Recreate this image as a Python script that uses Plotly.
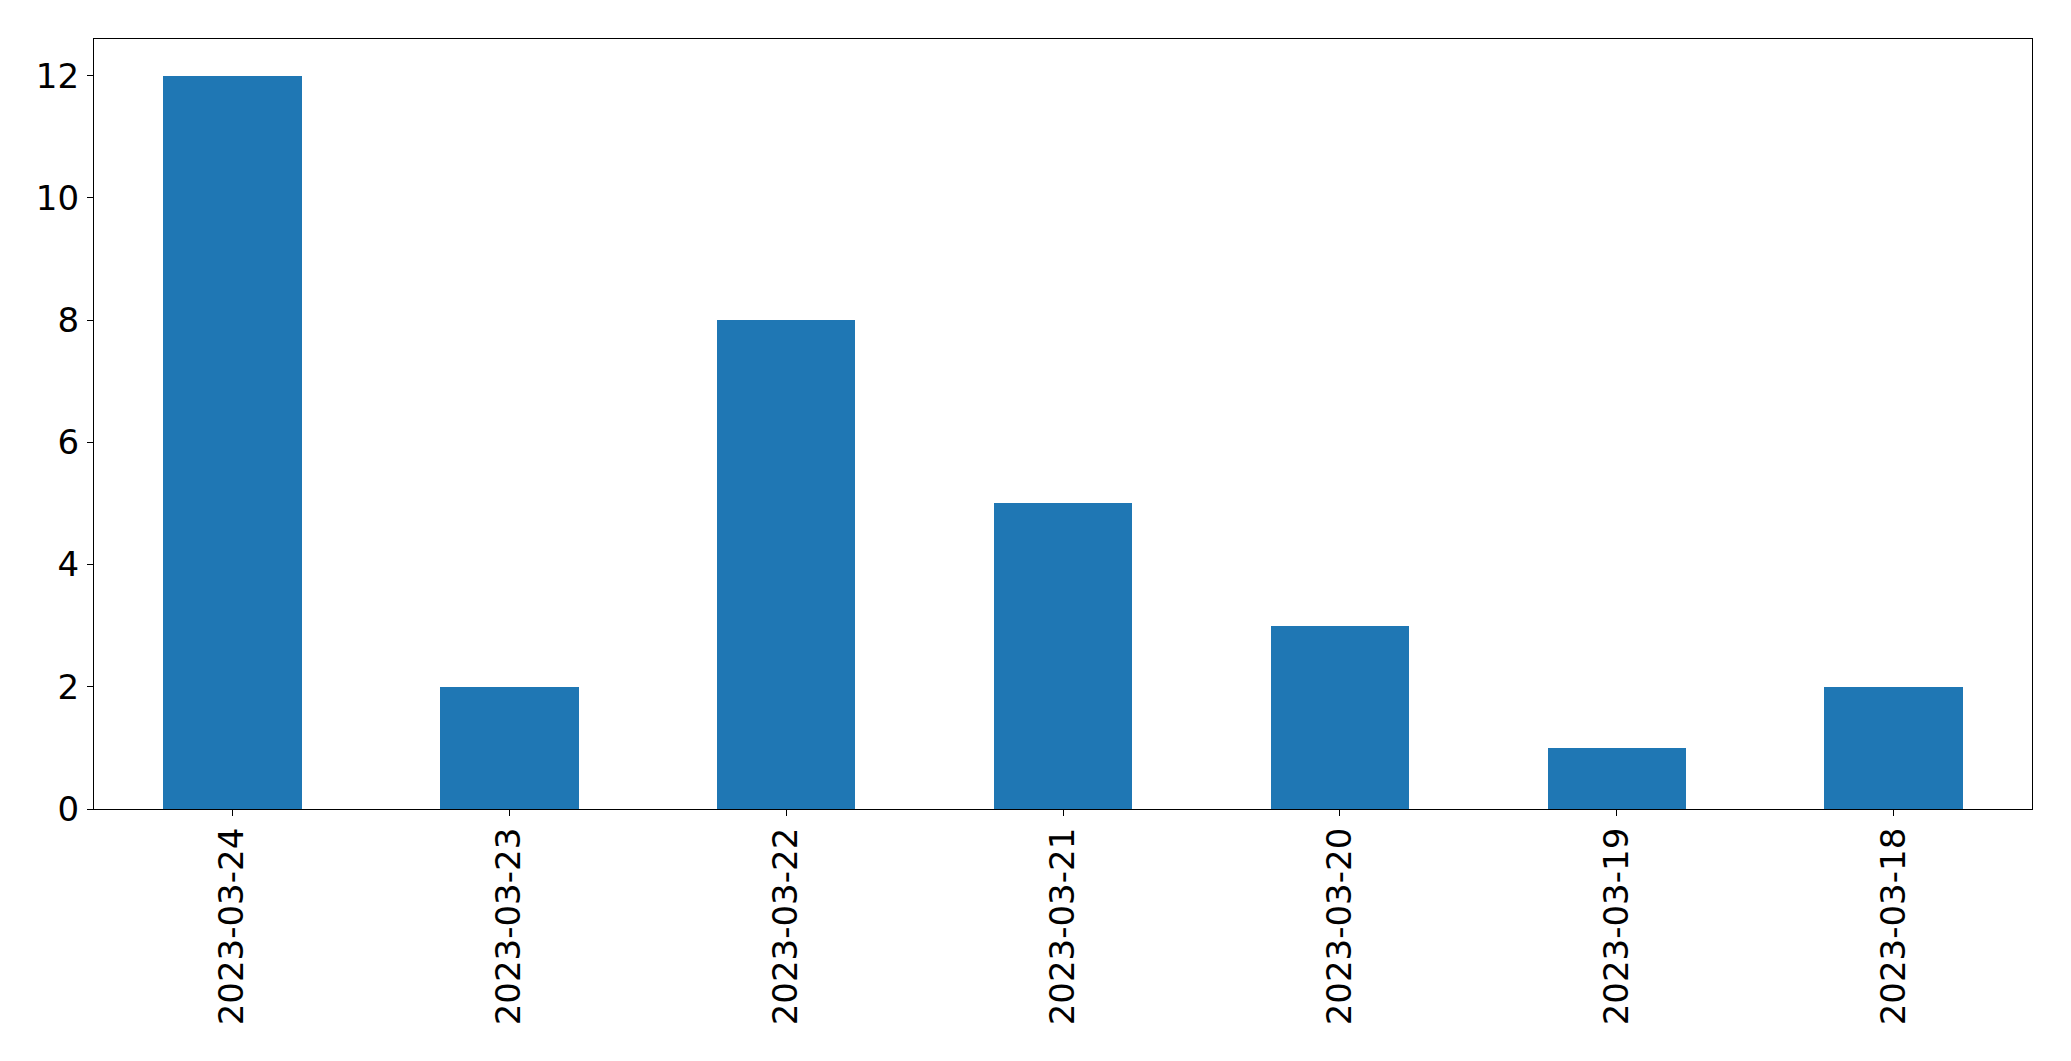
import plotly.graph_objects as go

dates = ["2023-03-24", "2023-03-23", "2023-03-22", "2023-03-21",
         "2023-03-20", "2023-03-19", "2023-03-18"]
counts = [12, 2, 8, 5, 3, 1, 2]
y_ticks = [0, 2, 4, 6, 8, 10, 12]

fig = go.Figure(go.Bar(x=dates, y=counts, width=0.5, marker_color="#1f77b4",
                       marker_line_width=0))

axis_common = dict(showline=True, linecolor="black", linewidth=1.3, mirror=True,
                   ticks="outside", ticklen=6, tickwidth=1.3, tickcolor="black",
                   showgrid=False, zeroline=False,
                   tickfont=dict(family="DejaVu Sans", size=34, color="black"))

fig.update_layout(
    width=2071, height=1061,
    margin=dict(l=86, r=47, t=31, b=260),
    plot_bgcolor="white", paper_bgcolor="white",
    showlegend=False,
    xaxis=dict(type="category", range=[-0.5, 6.5], tickangle=-90,
               ticklabelstandoff=-2, **axis_common),
    yaxis=dict(range=[0, 12.6], tickvals=y_ticks, ticklabelstandoff=1, **axis_common),
    bargap=0,
)

fig.write_html("out.html")
